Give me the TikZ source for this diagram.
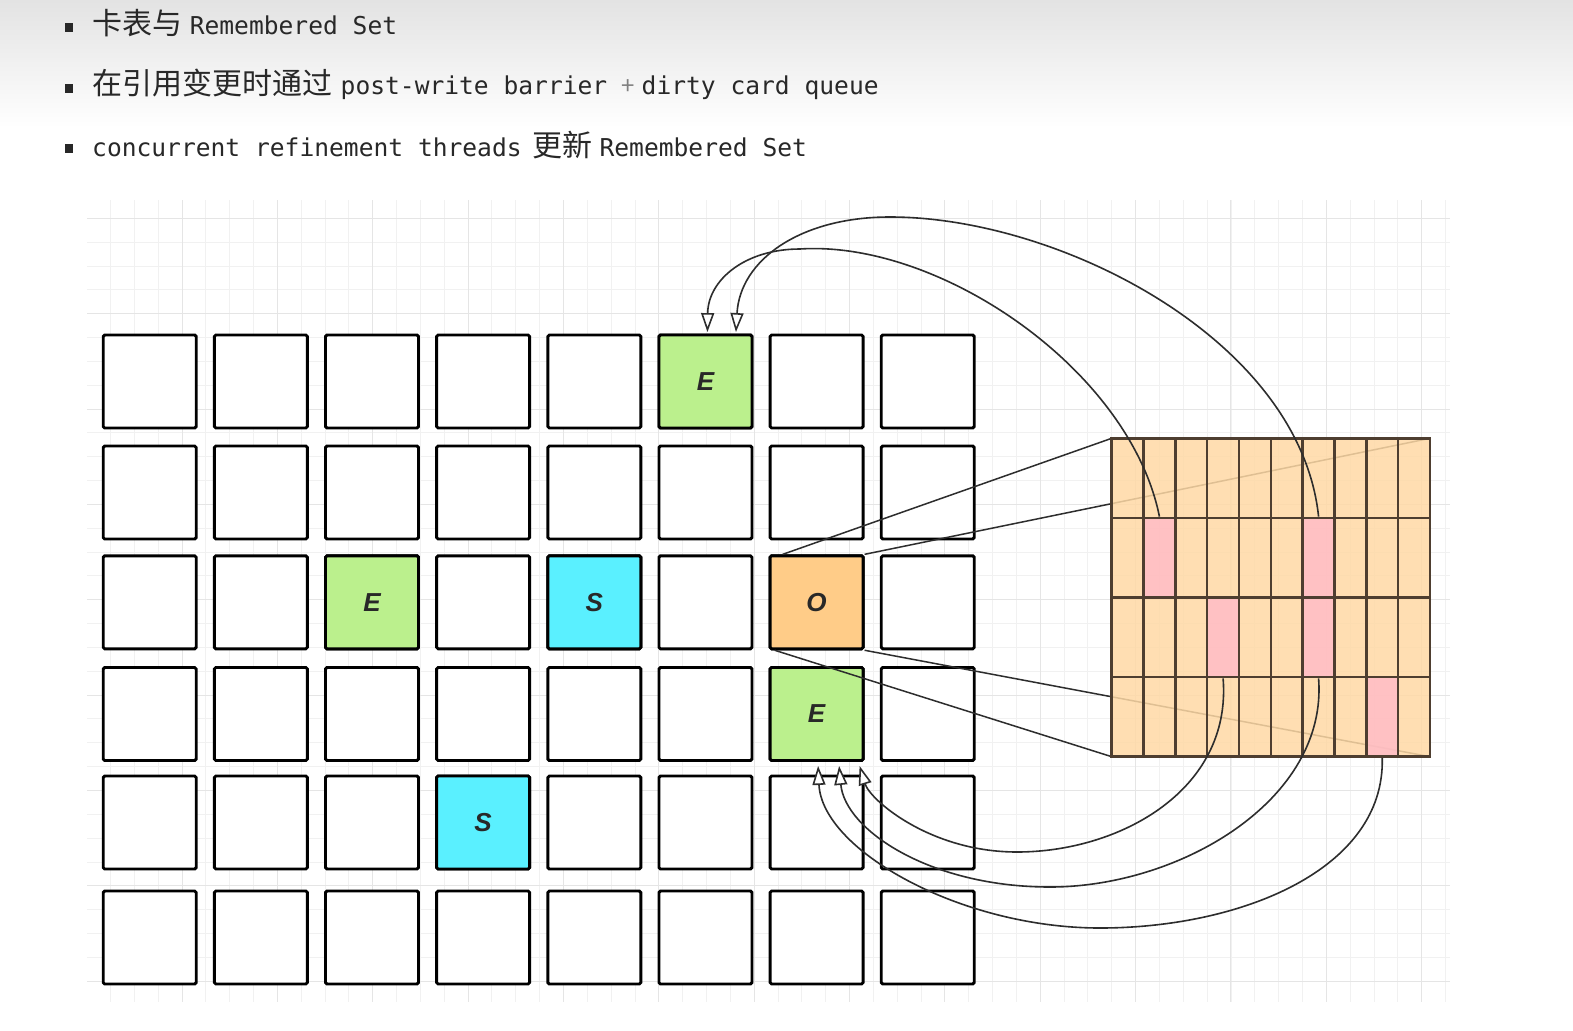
\documentclass[tikz,border=0pt]{standalone}
\usepackage{fontspec}
\newfontfamily\cjk{Noto Sans CJK SC}
\newfontfamily\mono{DejaVu Sans Mono}
\newfontfamily\cellfont{Liberation Sans}
\usetikzlibrary{arrows.meta}

\definecolor{egreen}{RGB}{187,240,141}
\definecolor{scyan}{RGB}{90,240,255}
\definecolor{oorange}{RGB}{255,204,136}
\definecolor{cardorange}{RGB}{255,217,165}
\definecolor{cardpink}{RGB}{255,188,198}
\definecolor{cardline}{RGB}{78,62,48}
\definecolor{curvegray}{RGB}{45,45,45}
\definecolor{textgray}{RGB}{40,40,40}
\definecolor{minorgrid}{RGB}{241,241,241}
\definecolor{majorgrid}{RGB}{229,229,229}

\tikzset{
  cell/.style={draw=black, line width=2.9pt, fill=white, minimum size=93pt,
    inner sep=0, rounded corners=1.5pt, text=textgray,
    font={\cellfont\bfseries\itshape\fontsize{26}{26}\selectfont}},
  card/.style={draw=cardline, line width=2.5pt, fill=cardorange, fill opacity=.85,
    minimum width=31.83pt, minimum height=79.6pt, inner sep=0},
  zoomline/.style={draw=curvegray, line width=1.5pt},
  ref/.style={draw=curvegray, line width=1.6pt,
    -{Triangle[length=19pt, width=13pt, fill=white]}},
  bullet/.style={fill=textgray, minimum width=8.5pt, minimum height=9pt, inner sep=0},
  cn/.style={anchor=base west, inner sep=0, text=textgray,
    font={\cjk\fontsize{30}{30}\selectfont}},
  code/.style={anchor=base west, inner sep=0, text=textgray,
    font={\mono\fontsize{24.6}{24.6}\selectfont}},
}

\begin{document}
\begin{tikzpicture}[x=1pt, y=-1pt]
  \useasboundingbox (0,0) rectangle (1573,1030);
  \fill[white] (0,0) rectangle (1573,1030);
  \shade[top color=black!11, bottom color=white] (0,0) rectangle (1573,128);

  % Bullet lines
  \node[bullet] (b1) at (69,27.5) {};
  \node[cn] (t1a) at (92,35) {卡表与};
  \node[code] (t1b) at (189.6,35) {Remembered Set};

  \node[bullet] (b2) at (69,89) {};
  \node[cn] (t2a) at (92,95) {在引用变更时通过};
  \node[code] (t2b) at (340.5,95) {post-write barrier};
  \node[cn, anchor=base, text=gray, font={\cjk\fontsize{24}{24}\selectfont}] (t2c) at (628.5,95) {+};
  \node[code] (t2d) at (641.5,95) {dirty card queue};

  \node[bullet] (b3) at (69,148.7) {};
  \node[code] (t3a) at (92,157) {concurrent refinement threads};
  \node[cn] (t3b) at (532.5,157) {更新};
  \node[code] (t3c) at (599.4,157) {Remembered Set};

  % Background grid
  \begin{scope}
    \clip (87,200) rectangle (1450,1002);
    \foreach \i in {1,...,57}
      \draw[minorgrid, line width=1pt] (86.7+\i*23.84,200) -- (86.7+\i*23.84,1002);
    \foreach \j in {0,...,32}
      \draw[minorgrid, line width=1pt] (87,218.35+\j*23.84) -- (1450,218.35+\j*23.84);
    \foreach \i in {1,...,14}
      \draw[majorgrid, line width=1pt] (86.7+\i*95.35,200) -- (86.7+\i*95.35,1002);
    \foreach \j in {0,...,8}
      \draw[majorgrid, line width=1pt] (87,218.35+\j*95.35) -- (1450,218.35+\j*95.35);
  \end{scope}

  % Heap regions
  \foreach \y [count=\r from 0] in {381.5,492.5,602.3,714,822.5,937.5}
    \foreach \c in {0,...,7}
      \node[cell] (r\r-\c) at (149.7+111.15*\c,\y) {};

  \node[cell, fill=egreen] (eTop) at (r0-5) {E};
  \node[cell, fill=egreen] (eLeft) at (r2-2) {E};
  \node[cell, fill=scyan] (sMid) at (r2-4) {S};
  \node[cell, fill=oorange] (oBox) at (r2-6) {O};
  \node[cell, fill=egreen] (eLow) at (r3-6) {E};
  \node[cell, fill=scyan] (sLow) at (r4-3) {S};

  % Zoom lines from O to the card table
  \draw[zoomline] ([xshift=14pt]oBox.north west) -- (1111.7,438.3) coordinate (ktl);
  \draw[zoomline] (oBox.north east) -- (1430,438.3) coordinate (ktr);
  \draw[zoomline] ([xshift=6pt]oBox.south west) -- (1111.7,756.7) coordinate (kbl);
  \draw[zoomline] (oBox.south east) -- (1430,756.7) coordinate (kbr);

  % Card table
  \foreach \r in {0,...,3}
    \foreach \c in {0,...,9}
      \node[card] (k\r-\c) at (1127.6+31.83*\c,478.1+79.6*\r) {};
  \foreach \r/\c in {1/1,1/6,2/3,2/6,3/8}
    \node[card, fill=cardpink] (p\r-\c) at (k\r-\c) {};

  % Remembered set references
  \draw[ref] (p1-1.north) .. controls (1130,370) and (940,240) .. (800,249)
    .. controls (745,249) and (708,280) .. ([xshift=2pt,yshift=1.5pt]eTop.north);
  \draw[ref] (p1-6.north) .. controls (1300,340) and (1060,217) .. (890,217)
    .. controls (800,217) and (740,260) .. ([xshift=30.5pt,yshift=1.5pt]eTop.north);
  \draw[ref] (p3-8.south) .. controls (1385,870) and (1240,928) .. (1100,928)
    .. controls (960,928) and (822,850) .. ([xshift=1.5pt,yshift=-4pt]eLow.south);
  \draw[ref] (p2-6.south) .. controls (1328,800) and (1180,887) .. (1050,887)
    .. controls (930,887) and (845,830) .. ([xshift=22.5pt,yshift=-4pt]eLow.south);
  \draw[ref] (p2-3.south) .. controls (1232,790) and (1120,852) .. (1017,852)
    .. controls (930,852) and (870,800) .. ([xshift=43pt,yshift=-4pt]eLow.south);
\end{tikzpicture}
\end{document}
